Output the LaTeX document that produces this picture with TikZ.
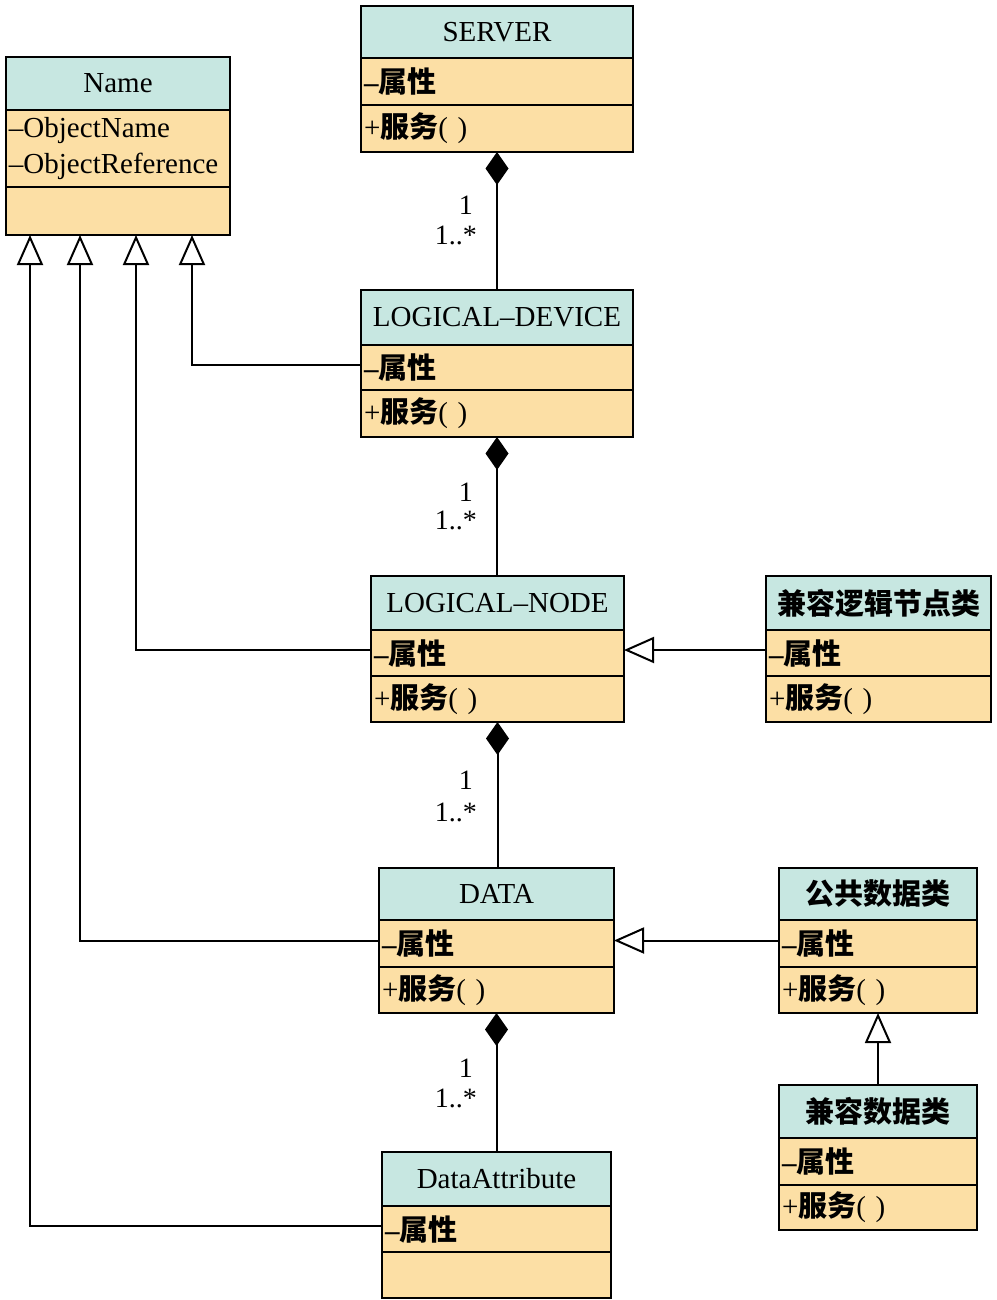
\documentclass[tikz,border=0pt]{standalone}
\usepackage{fontspec}
\setmainfont{Liberation Serif}
\newfontfamily\cjk{Noto Sans CJK SC}
\usetikzlibrary{arrows.meta}
\definecolor{hcol}{RGB}{199,231,225}
\definecolor{bcol}{RGB}{252,223,165}
\newcommand\zh[1]{{\cjk\bfseries #1}}
\newcommand\attrline{{\bfseries –}\zh{属性}}
\newcommand\servline{+\zh{服务}( )}
\tikzset{
 cell/.style={draw=black, line width=2.6pt, anchor=north west, inner sep=0pt, outer sep=0pt, font=\fontsize{29}{36}\selectfont},
 hdr/.style={cell, fill=hcol, align=center},
 row/.style={cell, fill=bcol, align=left, inner xsep=3pt},
 comp/.style={line width=2pt, {Diamond[length=33pt,width=23pt]}-},
 gen/.style={line width=2pt, -{Triangle[length=30pt,width=26pt,fill=white]}},
 mult/.style={anchor=east, inner sep=0pt, font=\fontsize{28}{30}\selectfont},
}
\begin{document}
\begin{tikzpicture}[x=1pt,y=-1pt]
\useasboundingbox (0,0) rectangle (996,1300);
% Name
\node[hdr, text width=224pt, minimum height=53pt] (name-h) at (6,57) {Name};
\node[row, text width=218pt, minimum height=77pt] (name-a) at (6,110) {–ObjectName\\–ObjectReference};
\node[row, text width=218pt, minimum height=48pt] (name-b) at (6,187) {};
% SERVER
\node[hdr, text width=272pt, minimum height=52pt] (server-h) at (361,6) {SERVER};
\node[row, text width=266pt, minimum height=47pt] (server-a) at (361,58) {\attrline};
\node[row, text width=266pt, minimum height=47pt] (server-s) at (361,105) {\servline};
% LOGICAL-DEVICE
\node[hdr, text width=272pt, minimum height=55pt] (ld-h) at (361,290) {LOGICAL–DEVICE};
\node[row, text width=266pt, minimum height=45pt] (ld-a) at (361,345) {\attrline};
\node[row, text width=266pt, minimum height=47pt] (ld-s) at (361,390) {\servline};
% LOGICAL-NODE
\node[hdr, text width=253pt, minimum height=54pt] (ln-h) at (371,576) {LOGICAL–NODE};
\node[row, text width=247pt, minimum height=46pt] (ln-a) at (371,630) {\attrline};
\node[row, text width=247pt, minimum height=46pt] (ln-s) at (371,676) {\servline};
% compatible LN class
\node[hdr, text width=225pt, minimum height=54pt] (cln-h) at (766,576) {\zh{兼容逻辑节点类}};
\node[row, text width=219pt, minimum height=46pt] (cln-a) at (766,630) {\attrline};
\node[row, text width=219pt, minimum height=46pt] (cln-s) at (766,676) {\servline};
% DATA
\node[hdr, text width=235pt, minimum height=52pt] (data-h) at (379,868) {DATA};
\node[row, text width=229pt, minimum height=47pt] (data-a) at (379,920) {\attrline};
\node[row, text width=229pt, minimum height=46pt] (data-s) at (379,967) {\servline};
% common data class
\node[hdr, text width=198pt, minimum height=52pt] (pub-h) at (779,868) {\zh{公共数据类}};
\node[row, text width=192pt, minimum height=47pt] (pub-a) at (779,920) {\attrline};
\node[row, text width=192pt, minimum height=46pt] (pub-s) at (779,967) {\servline};
% compatible data class
\node[hdr, text width=198pt, minimum height=53pt] (cdc-h) at (779,1085) {\zh{兼容数据类}};
\node[row, text width=192pt, minimum height=47pt] (cdc-a) at (779,1138) {\attrline};
\node[row, text width=192pt, minimum height=45pt] (cdc-s) at (779,1185) {\servline};
% DataAttribute
\node[hdr, text width=229pt, minimum height=54pt] (da-h) at (382,1152) {DataAttribute};
\node[row, text width=223pt, minimum height=46pt] (da-a) at (382,1206) {\attrline};
\node[row, text width=223pt, minimum height=46pt] (da-b) at (382,1252) {};
% compositions
\draw[comp] (server-s.south) -- (server-s.south |- ld-h.north);
\draw[comp] (ld-s.south) -- (ld-s.south |- ln-h.north);
\draw[comp] (ln-s.south) -- (ln-s.south |- data-h.north);
\draw[comp] (data-s.south) -- (data-s.south |- da-h.north);
% multiplicities
\node[mult] (m1a) at (473,205) {1};
\node[mult] (m1b) at (477,235) {1..*};
\node[mult] (m2a) at (473,492) {1};
\node[mult] (m2b) at (477,520) {1..*};
\node[mult] (m3a) at (473,780) {1};
\node[mult] (m3b) at (477,812) {1..*};
\node[mult] (m4a) at (473,1068) {1};
\node[mult] (m4b) at (477,1098) {1..*};
% generalizations
\draw[gen] ([yshift=3pt]ld-a.west) -| ([xshift=186pt]name-b.south west);
\draw[gen] ([yshift=3pt]ln-a.west) -| ([xshift=130pt]name-b.south west);
\draw[gen] ([yshift=3pt]data-a.west) -| ([xshift=74pt]name-b.south west);
\draw[gen] ([yshift=3pt]da-a.west) -| ([xshift=24pt]name-b.south west);
\draw[gen] ([yshift=3pt]cln-a.west) -- ([yshift=3pt]ln-a.east);
\draw[gen] ([yshift=3pt]pub-a.west) -- ([yshift=3pt]data-a.east);
\draw[gen] (cdc-h.north) -- (pub-s.south);
\end{tikzpicture}
\end{document}
